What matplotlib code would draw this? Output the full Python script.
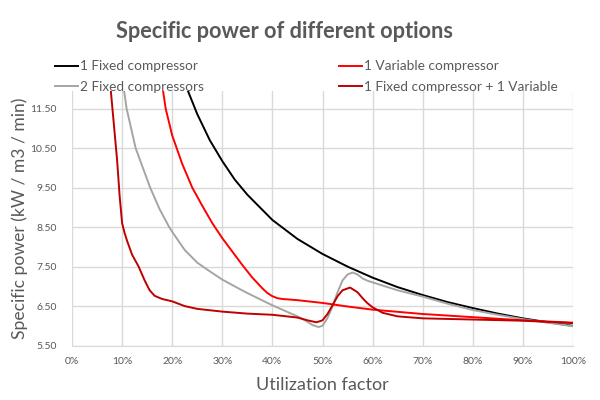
import matplotlib
matplotlib.use("Agg")
import matplotlib.pyplot as plt
from matplotlib.lines import Line2D
from matplotlib.ticker import FuncFormatter

plt.rcParams['font.family'] = ['Lato', 'DejaVu Sans']

# utilization factor (%) and specific power (kW / m3 / min)
fixed1_x = [22.5, 25, 27.5, 30, 32.5, 35, 40, 45, 50, 55, 60, 65, 70, 75, 80, 85, 90, 95, 100]
fixed1_y = [12.15, 11.36, 10.7, 10.17, 9.7, 9.32, 8.68, 8.2, 7.82, 7.5, 7.22, 6.98, 6.78, 6.6, 6.45, 6.31, 6.19,
            6.09, 6.0]

fixed2_x = [10, 10.9, 12.7, 15.6, 17.5, 19.4, 20, 22.5, 25, 27.5, 30, 33.5, 35, 40, 45, 46.5, 48, 49.2, 50,
            51, 52, 53, 54, 55, 56, 57, 58, 59, 60, 65, 70, 75, 80, 85, 90, 95, 100]
fixed2_y = [12.3, 11.5, 10.5, 9.5, 8.95, 8.5, 8.38, 7.92, 7.6, 7.38, 7.17, 6.93, 6.83, 6.52, 6.24, 6.14, 6.02,
            5.97, 6.0, 6.2, 6.49, 6.85, 7.15, 7.3, 7.35, 7.3, 7.2, 7.14, 7.1, 6.9, 6.74, 6.56, 6.4, 6.28, 6.17,
            6.08, 5.99]

var1_x = [18, 18.7, 20, 22, 24, 26, 28, 30, 32, 34, 36, 38, 39, 40, 41, 42, 45, 50, 55, 60, 70, 80, 90, 100]
var1_y = [12.1, 11.5, 10.82, 10.1, 9.5, 9.04, 8.6, 8.22, 7.88, 7.54, 7.22, 6.95, 6.83, 6.75, 6.7, 6.68, 6.65,
          6.58, 6.49, 6.41, 6.3, 6.22, 6.14, 6.08]

mix_x = [7.5, 8.0, 8.5, 9.0, 9.5, 10, 10.5, 11, 12, 13.3, 14.5, 15.5, 16.5, 18, 20, 22.5, 25, 30, 35, 40, 45,
         47, 48.8, 50, 51, 52, 53, 54, 55.5, 57, 58, 59, 60, 62, 65, 70, 80, 90, 100]
mix_y = [12.3, 11.6, 10.9, 10.2, 9.3, 8.6, 8.35, 8.15, 7.8, 7.5, 7.15, 6.9, 6.76, 6.68, 6.62, 6.5, 6.43, 6.36,
         6.31, 6.28, 6.21, 6.14, 6.09, 6.14, 6.3, 6.52, 6.75, 6.9, 6.97, 6.85, 6.7, 6.57, 6.47, 6.33, 6.24,
         6.19, 6.16, 6.13, 6.07]

labels = ['1 Fixed compressor', '2 Fixed compressors', '1 Variable compressor', '1 Fixed compressor + 1 Variable']
colors = ['#000000', '#A5A5A5', '#FF0000', '#C00000']
y_ticks = [5.5, 6.5, 7.5, 8.5, 9.5, 10.5, 11.5]
x_ticks = [0, 10, 20, 30, 40, 50, 60, 70, 80, 90, 100]

text_col = '#595959'
grid_col = '#D9D9D9'

fig = plt.figure(figsize=(6, 4), dpi=100)
ax = fig.add_axes([0.12, 0.136, 0.835, 0.637])

series = [(fixed1_x, fixed1_y), (fixed2_x, fixed2_y), (var1_x, var1_y), (mix_x, mix_y)]
for (xs, ys), c in zip(series, colors):
    ax.plot(xs, ys, color=c, lw=1.4, solid_capstyle='round', solid_joinstyle='round')

ax.set_xlim(0, 100)
ax.set_ylim(5.5, 11.95)
ax.set_xticks(x_ticks)
ax.set_yticks(y_ticks)
ax.xaxis.set_major_formatter(FuncFormatter(lambda v, p: f'{v:.0f}%'))
ax.yaxis.set_major_formatter(FuncFormatter(lambda v, p: f'{v:.2f}'))
ax.grid(True, color=grid_col, lw=1)
ax.set_axisbelow(True)
for s in ['top', 'right', 'left']:
    ax.spines[s].set_visible(False)
ax.spines['bottom'].set_color(grid_col)
ax.tick_params(length=0, labelsize=7.5, labelcolor=text_col)
ax.tick_params(axis='y', pad=11)
ax.tick_params(axis='x', pad=8)

ax.set_xlabel('Utilization factor', fontsize=13, color=text_col, labelpad=8)
ax.set_ylabel('Specific power (kW / m3 / min)', fontsize=12.6, color=text_col, labelpad=1.5)

fig.text(284 / 600, 1 - 32 / 400, 'Specific power of different options', ha='center', va='center',
         fontsize=15.7, fontweight='bold', color=text_col)

handles = [Line2D([], [], color=c, lw=1.4) for c in colors]
leg_kw = dict(loc='upper left', frameon=False, fontsize=9.8, handlelength=1.7, handletextpad=0.15,
              borderpad=0, borderaxespad=0, labelspacing=0.6, labelcolor=text_col)
fig.legend(handles[:2], labels[:2], bbox_to_anchor=(55 / 600, 1 - 60.5 / 400), **leg_kw)
fig.legend(handles[2:], labels[2:], bbox_to_anchor=(339 / 600, 1 - 60.5 / 400), **leg_kw)

fig.savefig('out.png', dpi=100)
